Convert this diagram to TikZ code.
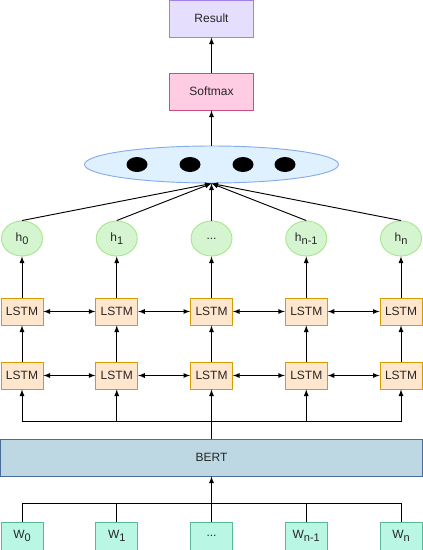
\documentclass[tikz,border=0pt]{standalone}
\usepackage{fontspec}
\setmainfont{Liberation Sans}
\usetikzlibrary{shapes, arrows, positioning}

\definecolor{resfill}{HTML}{E5DEFD}
\definecolor{resline}{HTML}{9F80E6}
\definecolor{smfill}{HTML}{FFCCE4}
\definecolor{smline}{HTML}{C9507A}
\definecolor{poolfill}{HTML}{DFF1FF}
\definecolor{poolline}{HTML}{86ABEB}
\definecolor{hfill}{HTML}{D5F5D0}
\definecolor{hline}{HTML}{A9E68F}
\definecolor{lstmfill}{HTML}{FFE6CC}
\definecolor{lstmline}{HTML}{D79B00}
\definecolor{bertfill}{HTML}{BDD8E2}
\definecolor{bertline}{HTML}{4A6C9B}
\definecolor{wfill}{HTML}{B9F7E4}
\definecolor{wline}{HTML}{5BB894}

\newcommand{\skipdots}{...}
\newcommand{\lowsub}[1]{\raisebox{-0.4ex}{\fontsize{8.25}{9}\selectfont #1}}

\tikzset{
    lstmbox/.style={draw=lstmline, fill=lstmfill, rectangle, inner sep=0pt, minimum width=31.5pt, minimum height=20.25pt},
    hnode/.style={draw=hline, fill=hfill, ellipse, inner sep=0pt, minimum width=30.75pt, minimum height=26.25pt},
    wbox/.style={draw=wline, fill=wfill, rectangle, inner sep=0pt, minimum width=31.5pt, minimum height=21pt},
    topbox/.style={rectangle, inner sep=0pt, minimum width=63pt, minimum height=27.75pt},
    dot/.style={fill=black, ellipse, inner sep=0pt, minimum width=15.75pt, minimum height=11.25pt}
}

\begin{document}
\begin{tikzpicture}[>=latex, font=\fontsize{9}{10}\selectfont, x=0.75pt, y=-0.75pt, line width=0.7pt, text=black!85]
    \useasboundingbox (0,0) rectangle (423,550);

    \node[topbox, draw=resline, fill=resfill] at (211.5, 18.5) (result) {Result};
    \node[topbox, draw=smline, fill=smfill] at (211.5, 91.5) (softmax) {Softmax};

    \node[draw=poolline, fill=poolfill, ellipse, inner sep=0pt, minimum width=190.5pt, minimum height=27.75pt] at (211.5, 164.5) (pool) {};
    \foreach \x [count=\k] in {137, 190, 243, 285} {
        \node[dot] at (\x, 164.5) (dot\k) {};
    };

    \node[draw=bertline, fill=bertfill, rectangle, inner sep=0pt, minimum width=316.5pt, minimum height=27.75pt] at (211.5, 457.5) (bert) {BERT};

    \foreach \i/\hlab/\wlab in {0/h\lowsub{0}/W\lowsub{0}, 1/h\lowsub{1}/W\lowsub{1}, 2/\skipdots/\skipdots, 3/h\lowsub{n-1}/W\lowsub{n-1}, 4/h\lowsub{n}/W\lowsub{n}} {
        \node[hnode] at (22+94.75*\i, 238.5) (h\i) {\hlab};
        \node[lstmbox] at (22+94.75*\i, 311.5) (lstmtop\i) {LSTM};
        \node[lstmbox] at (22+94.75*\i, 375.5) (lstmbot\i) {LSTM};
        \node[wbox] at (22+94.75*\i, 536) (w\i) {\wlab};
        \draw[->] (lstmtop\i) -- (h\i);
        \draw[->] (lstmbot\i) -- (lstmtop\i);
        \draw[->] (h\i.north) -- (pool.south);
    };

    \foreach \i [evaluate=\i as \j using int(\i+1)] in {0, 1, 2, 3} {
        \draw[<->] (lstmtop\i.east) -- (lstmtop\j.west);
        \draw[<->] (lstmbot\i.east) -- (lstmbot\j.west);
    };

    % split lines around BERT
    \coordinate (bertsplit) at (211.5, 421);
    \coordinate (wsplit) at (211.5, 503);
    \draw (bert.north) -- (bertsplit);
    \foreach \i in {0, 1, 2, 3, 4} {
        \draw[->] (bertsplit) -| (lstmbot\i.south);
        \draw (w\i.north) |- (wsplit);
    };
    \draw[->] (wsplit) -- (bert.south);

    \draw[->] (pool.north) -- (softmax.south);
    \draw[->] (softmax.north) -- (result.south);
\end{tikzpicture}
\end{document}
